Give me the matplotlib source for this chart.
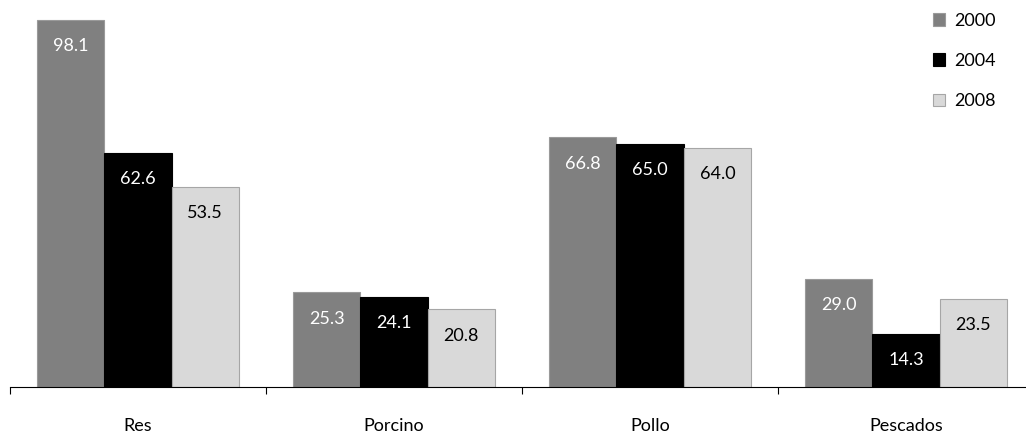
import matplotlib
matplotlib.use('Agg')
import matplotlib.pyplot as plt
import numpy as np

plt.rcParams['font.family'] = ['Lato', 'DejaVu Sans']

# data
categories = ['Res', 'Porcino', 'Pollo', 'Pescados']
years = ['2000', '2004', '2008']
v2000 = [98.1, 25.3, 66.8, 29.0]
v2004 = [62.6, 24.1, 65.0, 14.3]
v2008 = [53.5, 20.8, 64.0, 23.5]

series = [v2000, v2004, v2008]
colors = ['#808080', '#000000', '#d9d9d9']
edges = ['#9a9a9a', '#000000', '#a6a6a6']
txtcol = ['white', 'white', 'black']

fig = plt.figure(figsize=(10.26, 4.33), dpi=100)
ax = fig.add_axes([10/1026, 46/433, 1024/1026, 374/433])

x = np.arange(len(categories))
w = 0.263
for i, vals in enumerate(series):
    pos = x + (i - 1) * w
    bars = ax.bar(pos, vals, w, color=colors[i], edgecolor=edges[i], lw=0.8, label=years[i])
    for b, v in zip(bars, vals):
        ax.annotate('%.1f' % v, (b.get_x() + b.get_width() / 2, v),
                    xytext=(0, -19), textcoords='offset points',
                    ha='center', va='center', color=txtcol[i], fontsize=13)

ax.set_xlim(-0.5, 3.5)
ax.set_ylim(0, 100)
for s in ['top', 'right', 'left']:
    ax.spines[s].set_visible(False)
ax.spines['bottom'].set_color('black')
ax.spines['bottom'].set_linewidth(0.8)
ax.set_yticks([])

ax.set_xticks(x)
ax.set_xticklabels(categories, fontsize=13)
ax.tick_params(axis='x', which='major', length=0, pad=22)
ax.set_xticks(np.arange(-0.5, 4.0, 1.0), minor=True)
ax.tick_params(axis='x', which='minor', length=5, width=0.8, direction='out')

leg = fig.legend(loc='upper left', bbox_to_anchor=(920/1026, 1.0), frameon=False,
                 fontsize=13, handlelength=0.7, handleheight=0.7, handletextpad=0.5,
                 labelspacing=1.35, borderaxespad=0.3)

plt.savefig('out.png', dpi=100)
